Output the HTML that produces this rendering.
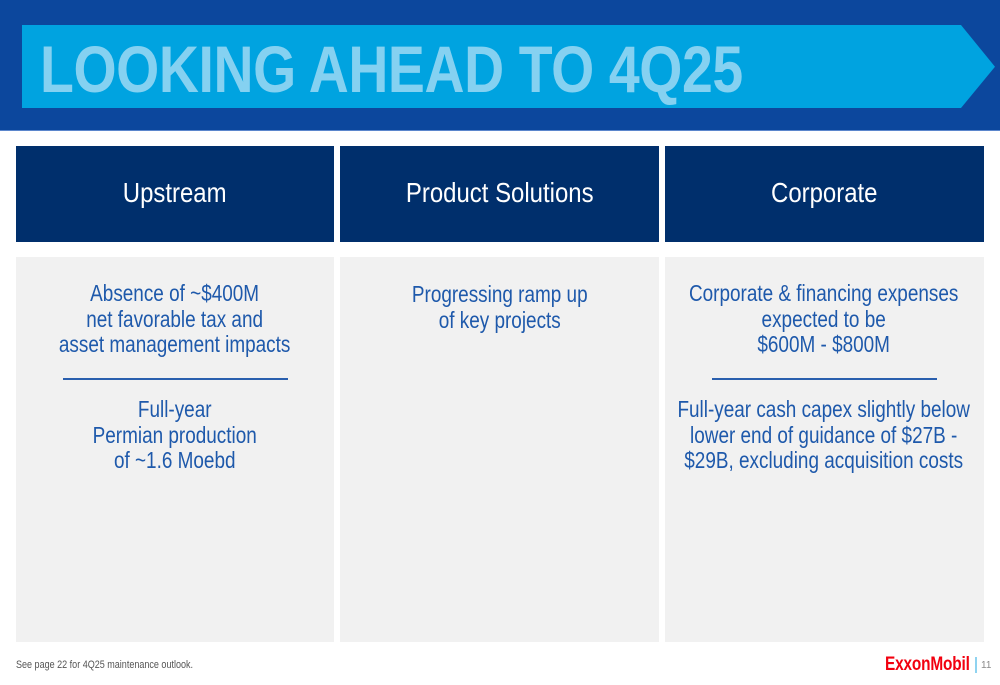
<!DOCTYPE html>
<html>
<head>
<meta charset="utf-8">
<style>
  html, body { margin:0; padding:0; }
  body { width:1000px; height:685px; position:relative; overflow:hidden; background:#ffffff; font-family:"Liberation Sans", Arial, sans-serif; }
  .band { position:absolute; left:0; top:0; width:1000px; height:131px; background:#0c479d; }
  .bandline { position:absolute; left:0; top:130px; width:1000px; height:1px; background:#5b86cc; }
  .title { position:absolute; left:40px; top:36px; font-size:66px; line-height:66px; font-weight:bold; color:#85d1f1; white-space:nowrap; transform:scaleX(0.84); transform-origin:left top; letter-spacing:-0.5px; }
  .hdr { position:absolute; top:146px; height:96px; background:#002f6c; }
  .body { position:absolute; top:257px; height:385px; background:#f1f1f1; }
  .htxt { position:absolute; top:179px; width:400px; text-align:center; font-size:28px; line-height:28px; color:#ffffff; white-space:nowrap; }
  .htxt span { display:inline-block; transform:scaleX(0.855); }
  .btxt { position:absolute; width:500px; text-align:center; font-size:23px; line-height:25.5px; color:#1e59ab; white-space:nowrap; }
  .btxt span { display:inline-block; transform:scaleX(0.823); }
  .rule { position:absolute; height:2px; background:#2a5fae; }
  .foot { position:absolute; left:16px; top:659px; font-size:11px; line-height:13px; color:#555; white-space:nowrap; transform:scaleX(0.82); transform-origin:left top; }
  .logo { position:absolute; left:885px; top:655px; font-size:19px; line-height:19px; font-weight:bold; color:#f2000f; white-space:nowrap; transform:scaleX(0.81); transform-origin:left top; letter-spacing:-0.2px; }
  .sep { position:absolute; left:975px; top:657px; width:2px; height:16px; background:#8fd3f0; }
  .pg { position:absolute; left:981px; top:660px; font-size:10px; line-height:12px; color:#8a8a8a; }
</style>
</head>
<body>
  <div class="band"></div>
  <div class="bandline"></div>
  <svg style="position:absolute;left:0;top:0" width="1000" height="131">
    <polygon points="22,25 961,25 995,66.7 961,108 22,108" fill="#00a3e0"/>
  </svg>
  <div class="title">LOOKING AHEAD TO 4Q25</div>

  <div class="hdr" style="left:16px; width:318px;"></div>
  <div class="hdr" style="left:340px; width:319px;"></div>
  <div class="hdr" style="left:665px; width:319px;"></div>
  <div class="htxt" style="left:-25px;"><span>Upstream</span></div>
  <div class="htxt" style="left:299.5px;"><span>Product Solutions</span></div>
  <div class="htxt" style="left:624.5px;"><span>Corporate</span></div>

  <div class="body" style="left:16px; width:318px;"></div>
  <div class="body" style="left:340px; width:319px;"></div>
  <div class="body" style="left:665px; width:319px;"></div>

  <!-- Upstream column (center 175) -->
  <div class="btxt" style="left:-75px; top:281px;">
    <span>Absence of ~$400M<br>net favorable tax and<br>asset management impacts</span>
  </div>
  <div class="rule" style="left:63px; width:225px; top:378px;"></div>
  <div class="btxt" style="left:-75px; top:397px;">
    <span>Full-year<br>Permian production<br>of ~1.6 Moebd</span>
  </div>

  <!-- Product Solutions column (center 499.5) -->
  <div class="btxt" style="left:249.5px; top:282px;">
    <span>Progressing ramp up<br>of key projects</span>
  </div>

  <!-- Corporate column (center 824.5) -->
  <div class="btxt" style="left:573.5px; top:281px;">
    <span>Corporate &amp; financing expenses<br>expected to be<br>$600M - $800M</span>
  </div>
  <div class="rule" style="left:712px; width:225px; top:378px;"></div>
  <div class="btxt" style="left:573.5px; top:397px;">
    <span>Full-year cash capex slightly below<br>lower end of guidance of $27B -<br>$29B, excluding acquisition costs</span>
  </div>

  <div class="foot">See page 22 for 4Q25 maintenance outlook.</div>
  <div class="logo">ExxonMobil</div>
  <div class="sep"></div>
  <div class="pg">11</div>
</body>
</html>
